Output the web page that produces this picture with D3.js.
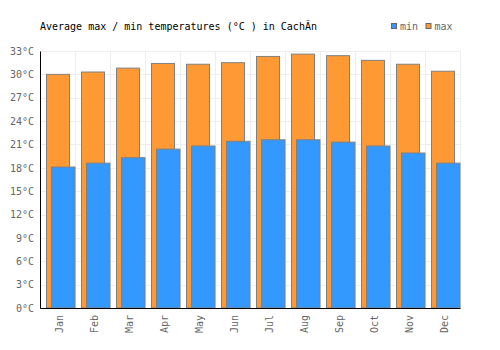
<!DOCTYPE html>
<html>
<head>
<meta charset="utf-8">
<script src="https://cdn.jsdelivr.net/npm/d3@7"></script>
<style>
  body { margin: 0; background: #fff; }
  text { font-family: "DejaVu Sans Mono", monospace; font-size: 10px; }
</style>
</head>
<body>
<div id="chart"></div>
<script>
// Data
const months = ['Jan', 'Feb', 'Mar', 'Apr', 'May', 'Jun', 'Jul', 'Aug', 'Sep', 'Oct', 'Nov', 'Dec'];
const maxTemps = [30.0, 30.3, 30.8, 31.4, 31.3, 31.5, 32.3, 32.6, 32.4, 31.8, 31.3, 30.4];
const minTemps = [18.1, 18.6, 19.3, 20.4, 20.8, 21.4, 21.6, 21.6, 21.3, 20.8, 19.9, 18.6];
const yTicks = [0, 3, 6, 9, 12, 15, 18, 21, 24, 27, 30, 33];

const width = 500, height = 350;
const margin = { top: 51, right: 40, bottom: 42, left: 40 };

const svg = d3.select('#chart')
  .append('svg')
  .attr('width', width)
  .attr('height', height);

const x = d3.scaleBand().domain(months).range([margin.left, width - margin.right]).padding(0);
const y = d3.scaleLinear().domain([0, 33]).range([height - margin.bottom, margin.top]);

// Grid
const grid = svg.append('g').attr('stroke', '#eeeeee').attr('stroke-width', 1);
grid.selectAll('.hgrid')
  .data(yTicks)
  .join('line')
  .attr('x1', margin.left)
  .attr('x2', width - margin.right)
  .attr('y1', d => Math.round(y(d)) + 0.5)
  .attr('y2', d => Math.round(y(d)) + 0.5);
grid.selectAll('.vgrid')
  .data(months.slice(1).concat(['end']))
  .join('line')
  .attr('x1', d => Math.round(d === 'end' ? x.range()[1] : x(d)) + 0.5)
  .attr('x2', d => Math.round(d === 'end' ? x.range()[1] : x(d)) + 0.5)
  .attr('y1', y(33))
  .attr('y2', y(0));

// Bars
svg.selectAll('.bar-max')
  .data(months)
  .join('rect')
  .attr('class', 'bar-max')
  .attr('x', d => Math.round(x(d)) + 6.5)
  .attr('y', (d, i) => y(maxTemps[i]))
  .attr('width', 23)
  .attr('height', (d, i) => y(0) - y(maxTemps[i]))
  .attr('fill', '#ff9933')
  .attr('stroke', '#808080')
  .attr('stroke-width', 1);

svg.selectAll('.bar-min')
  .data(months)
  .join('rect')
  .attr('class', 'bar-min')
  .attr('x', d => Math.round(x(d)) + 11.5)
  .attr('y', (d, i) => y(minTemps[i]))
  .attr('width', 23.5)
  .attr('height', (d, i) => y(0) - y(minTemps[i]))
  .attr('fill', '#3399ff')
  .attr('stroke', '#808080')
  .attr('stroke-width', 1);

// Axes
const yAxis = d3.axisLeft(y).tickValues(yTicks).tickSize(0).tickPadding(6).tickFormat(d => d + '°C');
svg.append('g')
  .attr('transform', `translate(${margin.left},0)`)
  .call(yAxis)
  .call(g => g.select('.domain').attr('stroke', '#000'))
  .call(g => g.selectAll('text').attr('fill', '#666').style('font-family', '"DejaVu Sans Mono", monospace').style('font-size', '10px'));

const xAxis = d3.axisBottom(x).tickSize(0).tickPadding(0);
svg.append('g')
  .attr('transform', `translate(0,${y(0)})`)
  .call(xAxis)
  .call(g => g.select('.domain').attr('stroke', '#000'))
  .call(g => g.selectAll('text')
    .attr('fill', '#666')
    .style('font-family', '"DejaVu Sans Mono", monospace')
    .style('font-size', '10px')
    .attr('text-anchor', 'end')
    .attr('transform', 'rotate(-90)')
    .attr('x', -7)
    .attr('y', 2)
    .attr('dy', '0.35em'));

// Title
svg.append('text')
  .attr('x', 40)
  .attr('y', 30)
  .attr('fill', '#000')
  .text('Average max / min temperatures (°C ) in CachÃ\u00adn');

// Legend
const legend = [{ name: 'min', color: '#3399ff', x: 391 }, { name: 'max', color: '#ff9933', x: 425.5 }];
const lg = svg.selectAll('.legend')
  .data(legend)
  .join('g')
  .attr('transform', d => `translate(${d.x},0)`);
lg.append('rect')
  .attr('x', 0.5)
  .attr('y', 23.5)
  .attr('width', 5)
  .attr('height', 5)
  .attr('fill', d => d.color)
  .attr('stroke', '#666');
lg.append('text')
  .attr('x', 9)
  .attr('y', 30)
  .attr('fill', '#666')
  .text(d => d.name);
</script>
</body>
</html>
